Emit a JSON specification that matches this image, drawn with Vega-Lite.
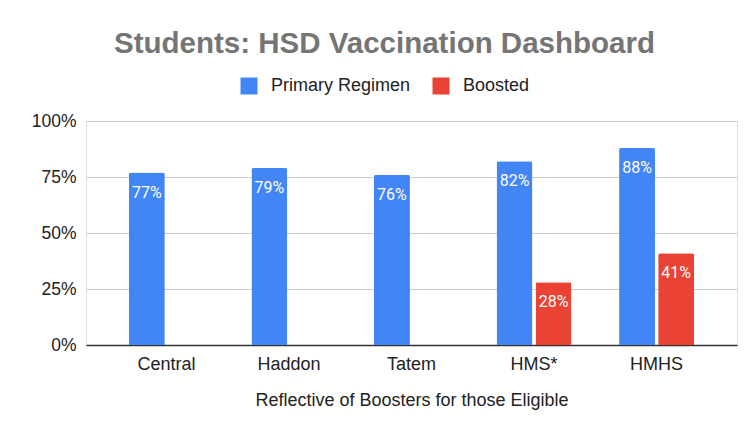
{
  "$schema": "https://vega.github.io/schema/vega-lite/v6.json",
  "width": 651,
  "height": 224,
  "autosize": "none",
  "padding": {"left": 86, "top": 121, "right": 8, "bottom": 89},
  "background": "white",
  "title": {
    "text": "Students: HSD Vaccination Dashboard",
    "font": "Liberation Sans",
    "fontSize": 29.5,
    "fontWeight": "bold",
    "color": "#757575",
    "anchor": "middle",
    "dx": -27,
    "offset": 18
  },
  "data": {
    "values": [
      {"school": "Central", "series": "Primary Regimen", "value": 0.77},
      {"school": "Haddon", "series": "Primary Regimen", "value": 0.79},
      {"school": "Tatem", "series": "Primary Regimen", "value": 0.76},
      {"school": "HMS*", "series": "Primary Regimen", "value": 0.82},
      {"school": "HMS*", "series": "Boosted", "value": 0.28},
      {"school": "HMHS", "series": "Primary Regimen", "value": 0.88},
      {"school": "HMHS", "series": "Boosted", "value": 0.41}
    ]
  },
  "encoding": {
    "x": {
      "field": "school",
      "type": "nominal",
      "sort": ["Central", "Haddon", "Tatem", "HMS*", "HMHS"],
      "scale": {"paddingInner": 0.388, "paddingOuter": 0.35},
      "axis": {
        "title": "Reflective of Boosters for those Eligible",
        "titleFont": "Liberation Sans",
        "titleFontSize": 18,
        "titleFontWeight": "normal",
        "titleColor": "#222222",
        "titlePadding": 18,
        "labelFont": "Liberation Sans",
        "labelFontSize": 18,
        "labelColor": "#222222",
        "labelAngle": 0,
        "labelPadding": 10,
        "ticks": false,
        "domain": true,
        "domainColor": "#333333",
        "domainWidth": 1.5,
        "grid": false
      }
    },
    "xOffset": {
      "field": "series",
      "type": "nominal",
      "sort": ["Primary Regimen", "Boosted"],
      "scale": {"paddingInner": 0.08}
    },
    "y": {
      "field": "value",
      "type": "quantitative",
      "scale": {"domain": [0, 1]},
      "axis": {
        "title": null,
        "format": ".0%",
        "values": [0, 0.25, 0.5, 0.75, 1],
        "labelFont": "Liberation Sans",
        "labelFontSize": 17.5,
        "labelColor": "#222222",
        "labelPadding": 10,
        "ticks": false,
        "domain": false,
        "gridColor": "#cccccc",
        "gridWidth": 1.2
      }
    }
  },
  "layer": [
    {
      "mark": {"type": "bar", "cornerRadiusTopLeft": 2, "cornerRadiusTopRight": 2},
      "encoding": {
        "color": {
          "field": "series",
          "type": "nominal",
          "sort": ["Primary Regimen", "Boosted"],
          "scale": {"domain": ["Primary Regimen", "Boosted"], "range": ["#4285F4", "#EA4335"]},
          "legend": {
            "title": null,
            "orient": "none",
            "direction": "horizontal",
            "legendX": 154,
            "legendY": -44,
            "symbolType": "square",
            "symbolSize": 289,
            "symbolStrokeWidth": 0,
            "labelFont": "Liberation Sans",
            "labelFontSize": 18,
            "labelColor": "#222222",
            "labelOffset": 13,
            "columnPadding": 21
          }
        }
      }
    },
    {
      "mark": {"type": "text", "baseline": "top", "dy": 12, "font": "Roboto", "fontSize": 16, "color": "white"},
      "encoding": {
        "text": {"field": "value", "type": "quantitative", "format": ".0%"}
      }
    }
  ]
}
